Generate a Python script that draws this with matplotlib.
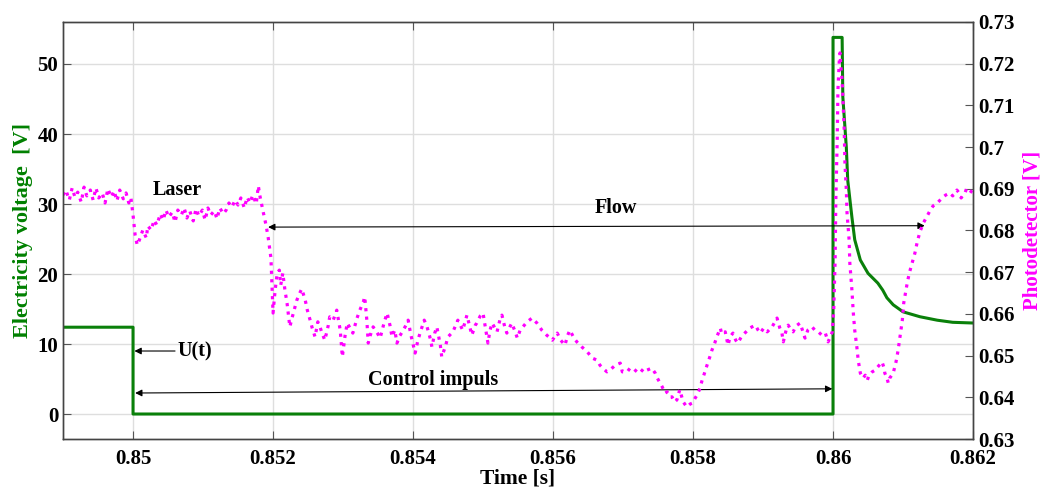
import matplotlib
matplotlib.use("Agg")
import matplotlib.pyplot as plt

plt.rcParams['font.family'] = ['Liberation Serif', 'DejaVu Serif']
plt.rcParams['font.weight'] = 'bold'

# control voltage U(t) [V]
u_time = [0.849, 0.85, 0.85, 0.86, 0.86, 0.86013, 0.86014, 0.86019, 0.86021,
          0.86027, 0.86031, 0.86039, 0.86050, 0.86064, 0.86071, 0.86077,
          0.86086, 0.86100, 0.86124, 0.86149, 0.86171, 0.862]
u_volt = [12.4, 12.4, 0, 0, 53.8, 53.8, 45.3, 38.1, 33.4,
          28.1, 24.9, 22.0, 20.1, 18.7, 17.7, 16.6,
          15.6, 14.6, 13.9, 13.4, 13.1, 13.0]

# photodetector signal [V]
pd_time = [
    0.84900, 0.84904, 0.84909, 0.84913, 0.84917, 0.84921, 0.84926, 0.84930, 0.84934, 0.84939,
    0.84943, 0.84947, 0.84951, 0.84956, 0.84960, 0.84964, 0.84969, 0.84973, 0.84977, 0.84981,
    0.84986, 0.84990, 0.84994, 0.84997, 0.85000, 0.85003, 0.85006, 0.85009, 0.85011, 0.85014,
    0.85019, 0.85021, 0.85026, 0.85030, 0.85034, 0.85039, 0.85043, 0.85047, 0.85051, 0.85056,
    0.85060, 0.85064, 0.85069, 0.85073, 0.85077, 0.85081, 0.85086, 0.85090, 0.85094, 0.85099,
    0.85103, 0.85107, 0.85111, 0.85116, 0.85120, 0.85124, 0.85129, 0.85133, 0.85137, 0.85141,
    0.85146, 0.85150, 0.85154, 0.85159, 0.85163, 0.85167, 0.85171, 0.85176, 0.85179, 0.85181,
    0.85186, 0.85190, 0.85193, 0.85197, 0.85200, 0.85203, 0.85206, 0.85209, 0.85211, 0.85214,
    0.85217, 0.85220, 0.85224, 0.85229, 0.85234, 0.85239, 0.85241, 0.85246, 0.85249, 0.85253,
    0.85256, 0.85260, 0.85264, 0.85267, 0.85270, 0.85274, 0.85279, 0.85281, 0.85286, 0.85291,
    0.85296, 0.85299, 0.85303, 0.85306, 0.85310, 0.85314, 0.85320, 0.85324, 0.85329, 0.85331,
    0.85334, 0.85336, 0.85339, 0.85343, 0.85349, 0.85353, 0.85359, 0.85363, 0.85367, 0.85370,
    0.85374, 0.85377, 0.85381, 0.85386, 0.85390, 0.85393, 0.85397, 0.85403, 0.85407, 0.85410,
    0.85416, 0.85420, 0.85424, 0.85427, 0.85431, 0.85434, 0.85439, 0.85441, 0.85446, 0.85450,
    0.85457, 0.85461, 0.85464, 0.85471, 0.85477, 0.85481, 0.85484, 0.85489, 0.85491, 0.85496,
    0.85500, 0.85504, 0.85507, 0.85510, 0.85513, 0.85517, 0.85520, 0.85524, 0.85527, 0.85531,
    0.85534, 0.85539, 0.85541, 0.85546, 0.85549, 0.85553, 0.85557, 0.85563, 0.85570, 0.85577,
    0.85584, 0.85591, 0.85596, 0.85599, 0.85606, 0.85611, 0.85617, 0.85621, 0.85624, 0.85630,
    0.85634, 0.85641, 0.85649, 0.85656, 0.85663, 0.85667, 0.85671, 0.85677, 0.85681, 0.85689,
    0.85696, 0.85699, 0.85706, 0.85710, 0.85714, 0.85720, 0.85724, 0.85730, 0.85734, 0.85741,
    0.85746, 0.85749, 0.85753, 0.85756, 0.85760, 0.85763, 0.85767, 0.85770, 0.85774, 0.85777,
    0.85781, 0.85786, 0.85789, 0.85791, 0.85796, 0.85799, 0.85803, 0.85806, 0.85810, 0.85813,
    0.85817, 0.85820, 0.85824, 0.85827, 0.85831, 0.85834, 0.85839, 0.85841, 0.85846, 0.85850,
    0.85853, 0.85857, 0.85861, 0.85864, 0.85869, 0.85874, 0.85881, 0.85889, 0.85893, 0.85896,
    0.85901, 0.85906, 0.85913, 0.85917, 0.85920, 0.85924, 0.85927, 0.85929, 0.85933, 0.85936,
    0.85940, 0.85943, 0.85947, 0.85953, 0.85957, 0.85960, 0.85964, 0.85970, 0.85974, 0.85979,
    0.85984, 0.85989, 0.85993, 0.85999, 0.86001, 0.86003, 0.86004, 0.86006, 0.86007, 0.86009,
    0.86010, 0.86011, 0.86013, 0.86014, 0.86016, 0.86017, 0.86019, 0.86020, 0.86023, 0.86024,
    0.86027, 0.86029, 0.86031, 0.86034, 0.86036, 0.86039, 0.86043, 0.86046, 0.86049, 0.86051,
    0.86056, 0.86060, 0.86064, 0.86070, 0.86073, 0.86074, 0.86077, 0.86079, 0.86081, 0.86086,
    0.86090, 0.86093, 0.86096, 0.86099, 0.86101, 0.86106, 0.86109, 0.86113, 0.86117, 0.86120,
    0.86124, 0.86129, 0.86133, 0.86139, 0.86143, 0.86149, 0.86153, 0.86157, 0.86161, 0.86167,
    0.86171, 0.86177, 0.86181, 0.86183, 0.86189, 0.86191, 0.86196, 0.86200,
]
pd_volt = [
    0.6885, 0.6897, 0.6873, 0.6902, 0.6880, 0.6892, 0.6868, 0.6904, 0.6883, 0.6897,
    0.6873, 0.6902, 0.6878, 0.6890, 0.6866, 0.6900, 0.6880, 0.6895, 0.6871, 0.6897,
    0.6876, 0.6890, 0.6866, 0.6878, 0.6837, 0.6789, 0.6765, 0.6777, 0.6787, 0.6801,
    0.6782, 0.6811, 0.6801, 0.6825, 0.6813, 0.6840, 0.6825, 0.6849, 0.6832, 0.6844,
    0.6820, 0.6849, 0.6837, 0.6854, 0.6830, 0.6847, 0.6823, 0.6852, 0.6835, 0.6849,
    0.6825, 0.6854, 0.6837, 0.6847, 0.6828, 0.6854, 0.6840, 0.6849, 0.6866, 0.6856,
    0.6873, 0.6861, 0.6878, 0.6854, 0.6880, 0.6866, 0.6885, 0.6864, 0.6907, 0.6885,
    0.6844, 0.6813, 0.6784, 0.6734, 0.6602, 0.6657, 0.6698, 0.6705, 0.6669, 0.6698,
    0.6657, 0.6626, 0.6569, 0.6602, 0.6633, 0.6653, 0.6660, 0.6633, 0.6609, 0.6585,
    0.6566, 0.6545, 0.6581, 0.6569, 0.6554, 0.6537, 0.6573, 0.6593, 0.6585, 0.6609,
    0.6561, 0.6497, 0.6549, 0.6578, 0.6566, 0.6554, 0.6590, 0.6609, 0.6629, 0.6641,
    0.6585, 0.6530, 0.6549, 0.6569, 0.6554, 0.6542, 0.6581, 0.6602, 0.6573, 0.6545,
    0.6561, 0.6530, 0.6547, 0.6561, 0.6573, 0.6585, 0.6549, 0.6506, 0.6537, 0.6554,
    0.6585, 0.6569, 0.6545, 0.6521, 0.6554, 0.6569, 0.6525, 0.6497, 0.6521, 0.6545,
    0.6557, 0.6573, 0.6585, 0.6561, 0.6597, 0.6569, 0.6549, 0.6573, 0.6578, 0.6595,
    0.6602, 0.6561, 0.6530, 0.6561, 0.6578, 0.6566, 0.6557, 0.6585, 0.6597, 0.6569,
    0.6554, 0.6571, 0.6578, 0.6557, 0.6542, 0.6561, 0.6569, 0.6581, 0.6590, 0.6578,
    0.6561, 0.6549, 0.6542, 0.6537, 0.6554, 0.6537, 0.6525, 0.6549, 0.6561, 0.6542,
    0.6533, 0.6521, 0.6509, 0.6494, 0.6489, 0.6477, 0.6470, 0.6461, 0.6465, 0.6477,
    0.6482, 0.6461, 0.6461, 0.6470, 0.6470, 0.6461, 0.6458, 0.6470, 0.6465, 0.6470,
    0.6458, 0.6446, 0.6434, 0.6425, 0.6410, 0.6413, 0.6401, 0.6401, 0.6389, 0.6394,
    0.6418, 0.6389, 0.6382, 0.6377, 0.6384, 0.6386, 0.6398, 0.6406, 0.6422, 0.6441,
    0.6461, 0.6477, 0.6497, 0.6513, 0.6530, 0.6545, 0.6566, 0.6552, 0.6557, 0.6525,
    0.6545, 0.6554, 0.6537, 0.6530, 0.6545, 0.6554, 0.6566, 0.6573, 0.6561, 0.6554,
    0.6566, 0.6557, 0.6569, 0.6581, 0.6590, 0.6566, 0.6554, 0.6533, 0.6561, 0.6573,
    0.6561, 0.6557, 0.6571, 0.6578, 0.6557, 0.6542, 0.6561, 0.6569, 0.6561, 0.6557,
    0.6549, 0.6554, 0.6533, 0.6557, 0.6609, 0.6729, 0.6873, 0.7017, 0.7137, 0.7209,
    0.7226, 0.7197, 0.7161, 0.7120, 0.7041, 0.6962, 0.6897, 0.6842, 0.6777, 0.6722,
    0.6657, 0.6602, 0.6561, 0.6521, 0.6489, 0.6458, 0.6446, 0.6453, 0.6441, 0.6451,
    0.6461, 0.6465, 0.6473, 0.6485, 0.6470, 0.6458, 0.6446, 0.6434, 0.6446, 0.6458,
    0.6485, 0.6513, 0.6549, 0.6585, 0.6626, 0.6674, 0.6698, 0.6722, 0.6746, 0.6770,
    0.6796, 0.6818, 0.6830, 0.6849, 0.6859, 0.6866, 0.6873, 0.6880, 0.6885, 0.6890,
    0.6883, 0.6897, 0.6888, 0.6878, 0.6892, 0.6902, 0.6895, 0.6890,
]

x_ticks = [0.85, 0.852, 0.854, 0.856, 0.858, 0.86, 0.862]
x_labels = ['0.85', '0.852', '0.854', '0.856', '0.858', '0.86', '0.862']
left_ticks = [0, 10, 20, 30, 40, 50]
right_ticks = [0.63, 0.64, 0.65, 0.66, 0.67, 0.68, 0.69, 0.70, 0.71, 0.72, 0.73]
right_labels = ['0.63', '0.64', '0.65', '0.66', '0.67', '0.68', '0.69', '0.7', '0.71', '0.72', '0.73']

green = '#0a800a'
magenta = '#ff00ff'

fig = plt.figure(figsize=(10.42, 4.91), dpi=100)
ax = fig.add_axes([0.0605, 0.1059, 0.8733, 0.8493])
ax2 = ax.twinx()

ax.plot(u_time, u_volt, color=green, lw=2.2, solid_joinstyle='round')
ax2.plot(pd_time, pd_volt, color=magenta, lw=2.3, ls=':')

ax.set_xlim(0.849, 0.862)
ax.set_ylim(-3.57, 56.0)
ax2.set_ylim(0.63, 0.73)

ax.set_xticks(x_ticks)
ax.set_xticklabels(x_labels)
ax.set_yticks(left_ticks)
ax2.set_yticks(right_ticks)
ax2.set_yticklabels(right_labels)

ax.grid(True, color='#dedede', lw=1)
ax.set_axisbelow(True)

for a in (ax, ax2):
    for s in a.spines.values():
        s.set_color('#444444')
        s.set_linewidth(1)
ax.tick_params(axis='x', direction='in', top=True, length=6, color='#555555',
               labelsize=15, pad=7)
ax.tick_params(axis='y', direction='in', length=6, color='#555555', labelsize=15)
ax2.tick_params(axis='y', direction='in', length=6, color='#555555', labelsize=15)

ax.set_xlabel('Time [s]', fontsize=15.5, fontweight='bold', labelpad=0)
ax.set_ylabel('Electricity voltage  [V]', fontsize=16, fontweight='bold', color='green',
              labelpad=3)
ax2.set_ylabel('Photodetector [V]', fontsize=15, fontweight='bold', color=magenta,
               labelpad=6)

# annotations
ax.text(0.85063, 32.0, 'Laser', fontsize=14.5, fontweight='bold', ha='center', va='center')
ax.text(0.8569, 29.4, 'Flow', fontsize=14.5, fontweight='bold', ha='center', va='center')
ax.text(0.85429, 4.9, 'Control impuls', fontsize=14.5, fontweight='bold',
        ha='center', va='center')
ax.text(0.85064, 9.0, 'U(t)', fontsize=14.5, fontweight='bold', ha='left', va='center')

arrow = dict(arrowstyle='<|-|>', color='black', lw=0.8, mutation_scale=10,
             shrinkA=0, shrinkB=0)
ax.annotate('', xy=(0.85193, 26.7), xytext=(0.86131, 26.9), arrowprops=arrow)
ax.annotate('', xy=(0.85003, 3.0), xytext=(0.85999, 3.6), arrowprops=arrow)
ax.annotate('', xy=(0.85002, 9.0), xytext=(0.85060, 9.0),
            arrowprops=dict(arrowstyle='-|>', color='black', lw=0.8,
                            mutation_scale=10, shrinkA=0, shrinkB=0))

fig.savefig('out.png', dpi=100)
